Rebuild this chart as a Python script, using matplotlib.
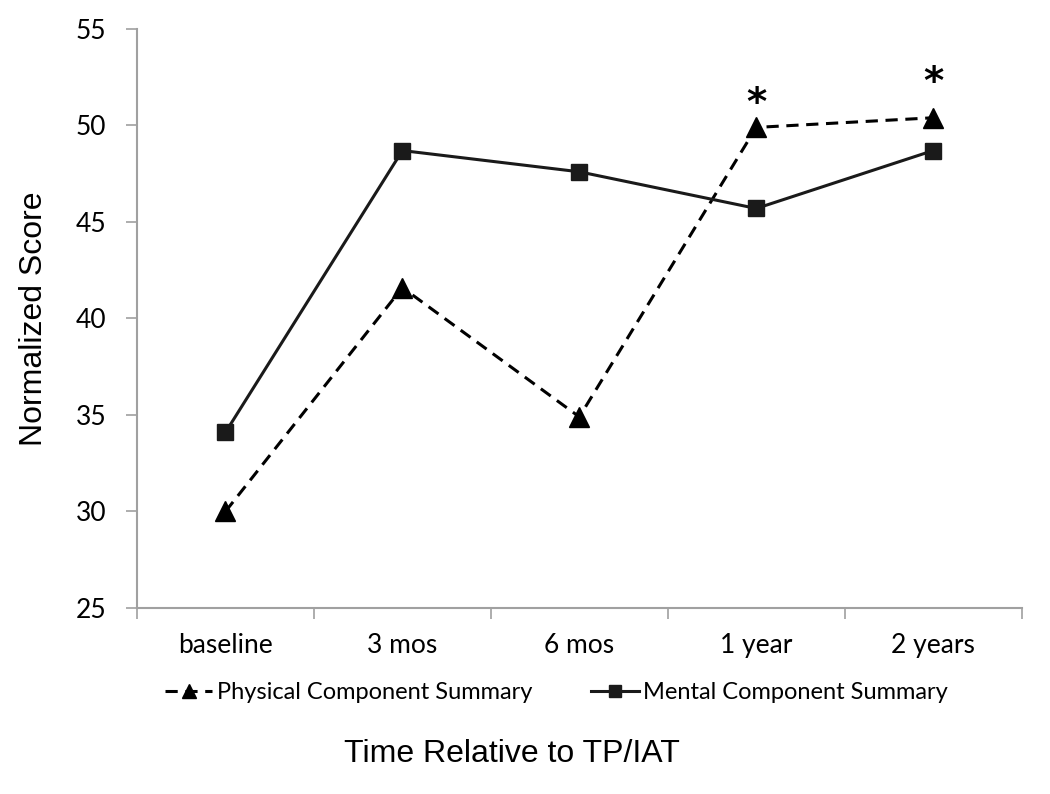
import numpy as np
import matplotlib.pyplot as plt

# Daten
categories = ['baseline', '3 mos', '6 mos', '1 year', '2 years']
physical = [30.0, 41.6, 34.9, 49.9, 50.4]
mental = [34.1, 48.7, 47.6, 45.7, 48.7]
signif = [3, 4]  # index with asterisk
yticks = [25, 30, 35, 40, 45, 50, 55]

fig = plt.figure(figsize=(10.5, 7.94), dpi=100)
ax = fig.add_axes([0.1305, 0.2343, 0.8425, 0.7292])

x = np.arange(len(categories))
ax.plot(x, physical, 'k--', marker='^', markersize=14, linewidth=2.2,
        dashes=(4, 2.5), label='Physical Component Summary')
ax.plot(x, mental, 'k-', marker='s', markersize=11, linewidth=2.2,
        color='#1a1a1a', label='Mental Component Summary')

# Signifikanz-Sterne
offsets = [1.2, 1.8]
for i, off in zip(signif, offsets):
    ax.text(x[i], physical[i] + off, '*', ha='center', va='center',
            fontsize=28, fontweight='bold', family='DejaVu Sans')

ax.set_xlim(-0.5, len(categories) - 0.5)
ax.set_ylim(25, 55)
ax.set_xticks(x)
ax.set_xticklabels(categories, family='Lato', fontsize=19)
ax.set_yticks(yticks)
ax.set_yticklabels([str(t) for t in yticks], family='Lato', fontsize=19)
ax.set_xticks(np.arange(len(categories) + 1) - 0.5, minor=True)
ax.tick_params(axis='x', which='major', length=0, pad=18)
ax.tick_params(axis='x', which='minor', length=8, width=1.2, color='#a0a0a0',
               direction='out')
ax.tick_params(axis='y', length=8, width=1.2, color='#a0a0a0', pad=14)

for s in ['top', 'right']:
    ax.spines[s].set_visible(False)
for s in ['left', 'bottom']:
    ax.spines[s].set_color('#a0a0a0')
    ax.spines[s].set_linewidth(1.5)

ax.set_ylabel('Normalized Score', family='Liberation Sans', fontsize=23,
              labelpad=19)
fig.text(0.488, 0.051, 'Time Relative to TP/IAT', family='Liberation Sans',
         fontsize=23, ha='center', va='center')

leg = fig.legend(loc='center', bbox_to_anchor=(0.53, 0.128), ncol=2,
                 frameon=False, prop={'family': 'Lato', 'size': 17},
                 handlelength=2.0, handletextpad=0.2, columnspacing=2.5,
                 markerscale=0.75)

fig.savefig('out.png', dpi=100)
